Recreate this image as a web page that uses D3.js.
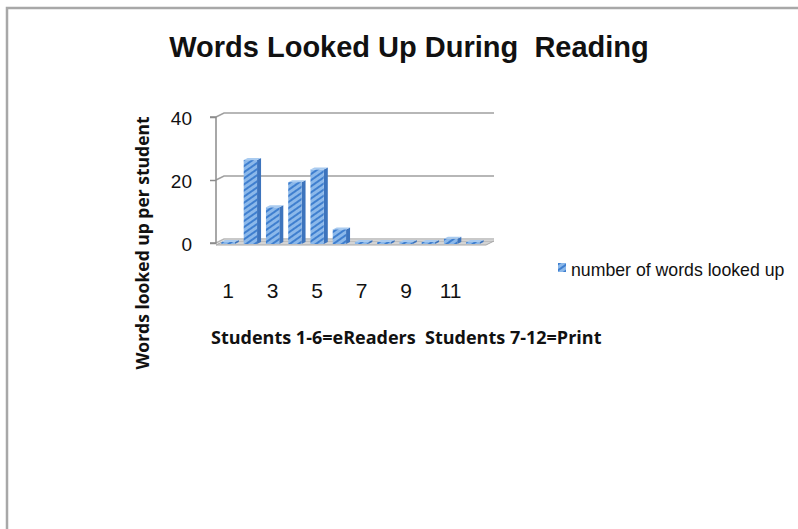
<!DOCTYPE html>
<html lang="en">
<head>
<meta charset="utf-8">
<title>Words Looked Up During Reading</title>
<script src="https://d3js.org/d3.v7.min.js"></script>
<style>
  body { margin: 0; background: #fff; }
  svg { display: block; }
</style>
</head>
<body>
<div id="vis"></div>
<script>
  // data
  const students = [1, 2, 3, 4, 5, 6, 7, 8, 9, 10, 11, 12];
  const wordsLookedUp = [0, 26, 11, 19, 23, 4, 0, 0, 0, 0, 1, 0];
  const yTicks = [0, 20, 40];
  const xTickLabels = [1, 3, 5, 7, 9, 11];
  const seriesName = "number of words looked up";

  const width = 798, height = 529;
  // depth offset of the 3d look
  const dx = 8, dy = -4;

  const svg = d3.select('#vis').append('svg')
    .attr('width', width)
    .attr('height', height);

  // frame of the pasted chart
  svg.append('path')
    .attr('d', 'M7,529 V8 H798')
    .attr('fill', 'none')
    .attr('stroke', '#a8a8a8')
    .attr('stroke-width', 2.5);

  const defs = svg.append('defs');
  const pat = defs.append('pattern')
    .attr('id', 'hatch')
    .attr('patternUnits', 'userSpaceOnUse')
    .attr('width', 5).attr('height', 5)
    .attr('patternTransform', 'rotate(-35)');
  pat.append('rect').attr('width', 5).attr('height', 5).attr('fill', '#8bb8ea');
  pat.append('rect').attr('width', 5).attr('height', 2).attr('fill', '#3f7fcf');

  const x = d3.scaleBand()
    .domain(students)
    .range([217, 484])
    .paddingInner(0.4)
    .paddingOuter(0.2);

  const y = d3.scaleLinear()
    .domain([0, 40])
    .range([243, 117]);

  const x0 = 216, x1 = 486;

  // gridlines on the back wall
  const grid = svg.append('g');
  yTicks.forEach(t => {
    grid.append('path')
      .attr('d', `M${x0},${y(t)} L${x0 + dx},${y(t) + dy} H${x1 + dx}`)
      .attr('fill', 'none')
      .attr('stroke', t === 0 ? '#b8b8b8' : '#a0a0a0')
      .attr('stroke-width', 1.5);
  });

  // floor
  svg.append('path')
    .attr('d', `M${x0},${y(0) + 2} L${x0 + dx},${y(0) + dy + 2} H${x1 + dx} L${x1},${y(0) + 2} Z`)
    .attr('fill', '#d4d4d4')
    .attr('stroke', '#a8a8a8')
    .attr('stroke-width', 1);

  // y axis line with ticks
  const yAxis = d3.axisLeft(y).tickValues(yTicks).tickSize(6).tickFormat(d => d);
  const ya = svg.append('g')
    .attr('transform', `translate(${x0},0)`)
    .call(yAxis);
  ya.select('.domain').attr('stroke', '#8c8c8c').attr('stroke-width', 1.5)
    .attr('d', `M-6,${y(40)}H0V${y(0)}H-6`);
  ya.selectAll('.tick line').attr('stroke', '#8c8c8c').attr('stroke-width', 1.5);
  ya.selectAll('.tick text')
    .attr('x', -24)
    .attr('dy', '0.38em')
    .attr('fill', '#111')
    .style('font-family', '"Liberation Sans Narrow", "Liberation Sans", Arial, sans-serif')
    .style('font-size', '19px');

  // bars, drawn as small boxes
  const bw = x.bandwidth();
  const bars = svg.append('g').selectAll('g')
    .data(students.map((s, i) => ({ s, v: wordsLookedUp[i] })))
    .join('g');

  bars.append('path') // side
    .attr('d', d => {
      const l = x(d.s) + bw, t = y(d.v) - 1, b = y(0) + 1;
      return `M${l},${t} l${dx / 2},${dy / 2} V${b + dy / 2} l${-dx / 2},${-dy / 2} Z`;
    })
    .attr('fill', '#3d74bd');
  bars.append('path') // top
    .attr('d', d => {
      const l = x(d.s), t = y(d.v) - 1;
      return `M${l},${t} l${dx / 2},${dy / 2} h${bw} l${-dx / 2},${-dy / 2} Z`;
    })
    .attr('fill', '#a9cbf0');
  bars.append('rect') // front
    .attr('x', d => x(d.s))
    .attr('y', d => y(d.v) - 1)
    .attr('width', bw)
    .attr('height', d => y(0) - y(d.v) + 2)
    .attr('fill', 'url(#hatch)');

  // x labels, set well below the floor
  svg.append('g').selectAll('text')
    .data(xTickLabels)
    .join('text')
    .attr('x', d => x(d) + bw / 2)
    .attr('y', 298)
    .attr('text-anchor', 'middle')
    .attr('fill', '#111')
    .style('font-family', '"Liberation Sans", Arial, sans-serif')
    .style('font-size', '21px')
    .text(d => d);

  // title
  svg.append('text')
    .attr('x', 409)
    .attr('y', 57)
    .attr('text-anchor', 'middle')
    .style('font-family', '"Liberation Sans", Arial, sans-serif')
    .style('font-weight', 'bold')
    .style('font-size', '29px')
    .attr('fill', '#111')
    .attr('xml:space', 'preserve')
    .text('Words Looked Up During  Reading');

  // axis titles
  svg.append('text')
    .attr('transform', 'translate(149,243) rotate(-90)')
    .attr('text-anchor', 'middle')
    .style('font-family', '"Open Sans", sans-serif')
    .style('font-weight', 'bold')
    .style('font-size', '17.5px')
    .attr('fill', '#111')
    .text('Words looked up per student');

  svg.append('text')
    .attr('x', 211)
    .attr('y', 344)
    .style('font-family', '"Open Sans", sans-serif')
    .style('font-weight', 'bold')
    .style('font-size', '18px')
    .attr('fill', '#111')
    .attr('xml:space', 'preserve')
    .text('Students 1-6=eReaders  Students 7-12=Print');

  // legend
  const lg = svg.append('g').attr('transform', 'translate(558,263)');
  lg.append('rect').attr('width', 8).attr('height', 9).attr('fill', 'url(#hatch)');
  lg.append('text')
    .attr('x', 13)
    .attr('y', 13)
    .style('font-family', '"Liberation Sans Narrow", "Liberation Sans", Arial, sans-serif')
    .style('font-size', '17.7px')
    .attr('fill', '#111')
    .text(seriesName);
</script>
</body>
</html>
